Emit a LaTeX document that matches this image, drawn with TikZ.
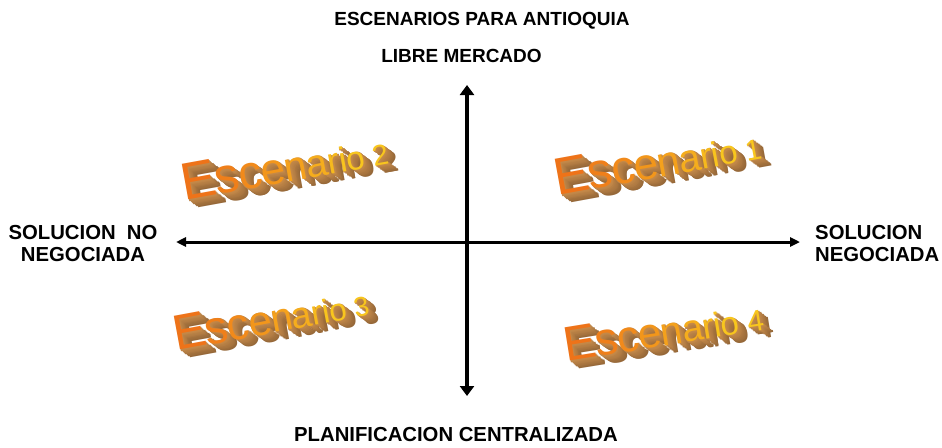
\documentclass[tikz,border=0pt]{standalone}
\usepackage{fontspec}
\setmainfont{Liberation Sans}
\usetikzlibrary{arrows.meta}
\definecolor{shadowA}{RGB}{130,90,50}
\definecolor{shadowB}{RGB}{200,140,75}
\definecolor{frontA}{RGB}{238,115,25}
\definecolor{frontB}{RGB}{248,198,30}
\tikzset{
  lbl/.style={inner sep=0pt, anchor=base, font=\fontsize{20.3}{24}\selectfont\bfseries},
  axisv/.style={line width=4pt, {Triangle[length=10pt,width=14pt]}-{Triangle[length=10pt,width=14pt]}},
  axish/.style={line width=3pt, {Triangle[length=10pt,width=9pt]}-{Triangle[length=10pt,width=9pt]}},
  waglyph/.style={inner sep=0pt, anchor=base west, transform shape}
}
% one pass over the letters: #1 s0, #2 s1, #3 digit, #4 mode (0 extrusion, 1 face)
\newcommand\waPass[4]{%
  \xdef\wacu{0}\xdef\wacp{0}%
  \foreach \ch/\w [count=\idx] in {E/0.667,s/0.5,c/0.5,e/0.556,n/0.556,a/0.556,r/0.333,i/0.222,o/0.556,\relax/0.278,#3/0.556}{%
    \pgfmathsetmacro\sz{#1+(#2-#1)*(\wacu+0.5*\w)/5.28}%
    \pgfmathsetmacro\dx{0.97*\w*\sz}%
    \ifnum#4=0
      \foreach \k in {12,...,1}{%
        \pgfmathtruncatemacro\sm{100-6*\k}%
        \node[waglyph, text=shadowB!\sm!shadowA] at (\wacp+0.7*\k,0.75*\k)
          {\fontsize{\sz}{\sz}\selectfont\ch};
      }%
    \else
      \pgfmathtruncatemacro\mv{min(100,14*(\idx-1))}%
      \node[waglyph, text=frontB!\mv!frontA] at (\wacp,0)
        {\fontsize{\sz}{\sz}\selectfont\ch};
    \fi
    \pgfmathsetmacro\nu{\wacu+\w}\xdef\wacu{\nu}%
    \pgfmathsetmacro\np{\wacp+\dx}\xdef\wacp{\np}%
  }}
% #1 x, #2 y, #3 angle, #4 s0, #5 s1, #6 digit
\newcommand\wordart[6]{%
  \begin{scope}[shift={(#1,#2)}, rotate=#3]
    \waPass{#4}{#5}{#6}{0}
    \waPass{#4}{#5}{#6}{1}
  \end{scope}}
\begin{document}
\begin{tikzpicture}[x=1pt,y=-1pt]
\useasboundingbox (0,0) rectangle (942,447);
\fill[white] (0,0) rectangle (942,447);

% titles
\node[lbl, font=\fontsize{19}{23}\selectfont\bfseries] (title) at (482,25) {ESCENARIOS PARA ANTIOQUIA};
\node[lbl, font=\fontsize{19}{23}\selectfont\bfseries] (top) at (461.5,62) {LIBRE MERCADO};
\node[lbl] (bottom) at (456,441) {PLANIFICACION CENTRALIZADA};
\node[lbl] (left1) at (83,239) {SOLUCION~~NO};
\node[lbl] (left2) at (83,261) {NEGOCIADA};
\node[lbl, anchor=base west] (right1) at (815,239) {SOLUCION};
\node[lbl, anchor=base west] (right2) at (815,261) {NEGOCIADA};

% axes
\coordinate (vt) at (467,85);
\coordinate (vb) at (467,396);
\coordinate (hl) at (176,242);
\coordinate (hr) at (800,242);
\draw[axisv] (vt) -- (vb);
\draw[axish] (hl) -- (hr);

% scenarios
\wordart{184}{201}{10.3}{54}{27.5}{2}
\wordart{557}{196}{10.4}{54}{27.5}{1}
\wordart{176}{351}{10.5}{51}{26}{3}
\wordart{566}{362}{9.2}{50}{28.5}{4}
\end{tikzpicture}
\end{document}
